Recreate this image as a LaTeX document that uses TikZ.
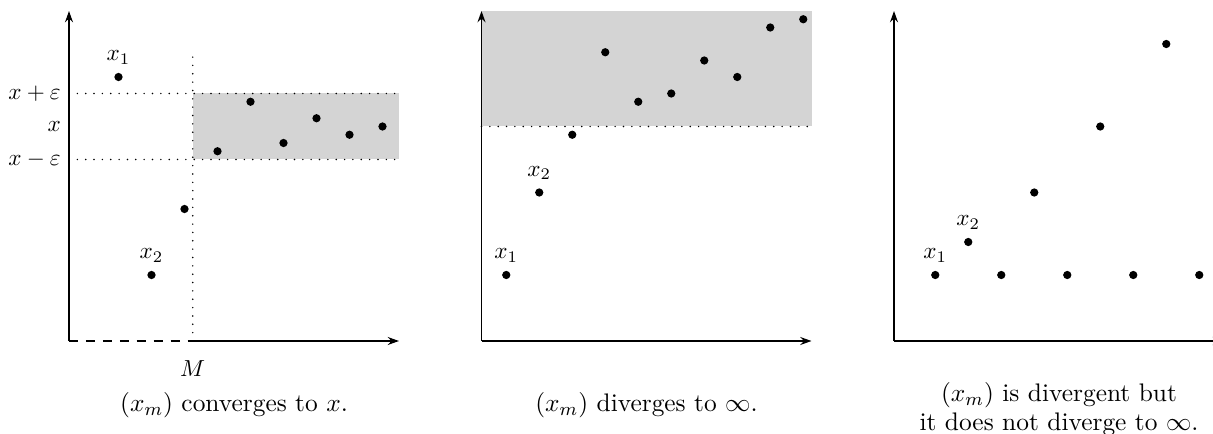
\documentclass[tikz,border=0pt]{standalone}
\usetikzlibrary{arrows.meta}

\begin{document}
\begin{tikzpicture}[x=0.5cm, y=0.5cm,
  axis/.style={line width=0.8pt, -{Stealth[length=1.7mm, width=1.2mm]}},
  pt/.style={circle, fill=black, inner sep=0pt, minimum size=1.25mm},
  guide/.style={line width=0.7pt, line cap=round, dash pattern=on 0pt off 3.6pt},
  band/.style={fill=black!17, draw=none},
  capt/.style={align=center, font=\fontsize{10.95}{12.5}\selectfont}]
\useasboundingbox (-2.0909,-2.7879) rectangle (34.6667,10.3333);
% ---------------- converging sequence
\begin{scope}
\coordinate (o1) at (0,0);
\coordinate (M) at (3.75,0);
\coordinate (yt1) at (0,10);
\coordinate (xt1) at (10,0);
\fill[band] (3.75,5.5) rectangle (10,7.5);
\draw[guide] (0,7.5) -- (10,7.5);
\draw[guide] (0,5.5) -- (10,5.5);
\draw[guide] (M) -- (3.75,8.75);
\draw[axis] (o1) -- (yt1);
\draw[line width=0.8pt, dash pattern=on 3.9pt off 3.4pt] (o1) -- (M);
\draw[axis] (M) -- (xt1);
\node[left] (ep) at (0,7.5) {$x+\varepsilon$};
\node[left] (ex) at (0,6.5) {$x$};
\node[left] (em) at (0,5.5) {$x-\varepsilon$};
\node (mlab) at (3.75,-0.85) {$M$};
\node[pt, label=above:$x_1$] (c1) at (1.5,8) {};
\node[pt, label=above:$x_2$] (c2) at (2.5,2) {};
\node[pt] (c3) at (3.5,4) {};
\node[pt] (c4) at (4.5,5.75) {};
\node[pt] (c5) at (5.5,7.25) {};
\node[pt] (c6) at (6.5,6) {};
\node[pt] (c7) at (7.5,6.75) {};
\node[pt] (c8) at (8.5,6.25) {};
\node[pt] (c9) at (9.5,6.5) {};
\node[capt] (cap1) at (5,-1.94) {$(x_m)$ converges to $x$.};
\end{scope}
% ---------------- diverging to infinity
\begin{scope}[shift={(12.5,0)}]
\coordinate (o2) at (0,0);
\coordinate (yt2) at (0,10);
\coordinate (xt2) at (10,0);
\fill[band] (0,6.5) rectangle (10,10);
\draw[guide] (0,6.5) -- (10,6.5);
\draw[axis] (o2) -- (yt2);
\draw[axis] (o2) -- (xt2);
\node[pt, label=above:$x_1$] (d1) at (0.75,2) {};
\node[pt, label=above:$x_2$] (d2) at (1.75,4.5) {};
\node[pt] (d3) at (2.75,6.25) {};
\node[pt] (d4) at (3.75,8.75) {};
\node[pt] (d5) at (4.75,7.25) {};
\node[pt] (d6) at (5.75,7.5) {};
\node[pt] (d7) at (6.75,8.5) {};
\node[pt] (d8) at (7.75,8) {};
\node[pt] (d9) at (8.75,9.5) {};
\node[pt] (d10) at (9.75,9.75) {};
\node[capt] (cap2) at (5,-1.94) {$(x_m)$ diverges to $\infty$.};
\end{scope}
% ---------------- divergent, not to infinity
\begin{scope}[shift={(25,0)}]
\coordinate (o3) at (0,0);
\coordinate (yt3) at (0,10);
\coordinate (xt3) at (10,0);
\draw[axis] (o3) -- (yt3);
\draw[axis] (o3) -- (xt3);
\node[pt, label=above:$x_1$] (e1) at (1.25,2) {};
\node[pt, label=above:$x_2$] (e2) at (2.25,3) {};
\node[pt] (e3) at (3.25,2) {};
\node[pt] (e4) at (4.25,4.5) {};
\node[pt] (e5) at (5.25,2) {};
\node[pt] (e6) at (6.25,6.5) {};
\node[pt] (e7) at (7.25,2) {};
\node[pt] (e8) at (8.25,9) {};
\node[pt] (e9) at (9.25,2) {};
\node[capt] (cap3) at (5,-2.06) {$(x_m)$ is divergent but\\it does not diverge to $\infty$.};
\end{scope}
\end{tikzpicture}
\end{document}
